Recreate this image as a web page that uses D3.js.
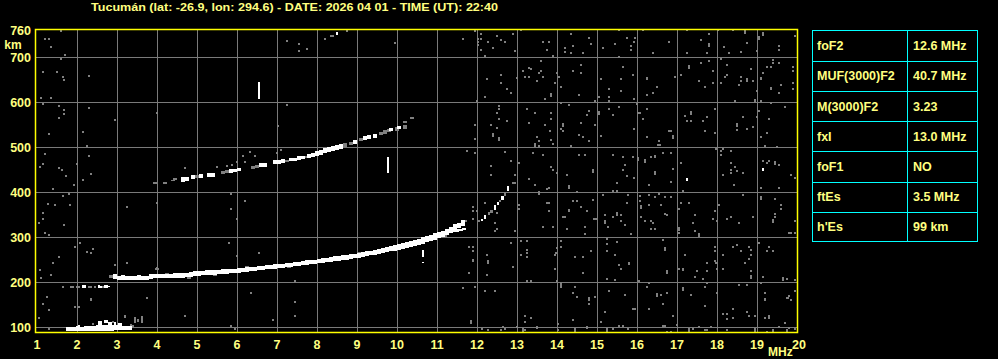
<!DOCTYPE html>
<html><head><meta charset="utf-8">
<script src="https://cdn.jsdelivr.net/npm/d3@7"></script>
<style>html,body{margin:0;padding:0;background:#000;overflow:hidden}</style>
</head><body>
<svg id="c" width="998" height="359"></svg>
<script>
// ---------------- DATA ----------------
const titleText = "Tucumán (lat: -26.9, lon: 294.6) - DATE: 2026 04 01 - TIME (UT): 22:40";
const freqTicks = d3.range(1, 21);
const freqGrid = d3.range(2, 20);
const heightTicks = [100, 200, 300, 400, 500, 600, 700, 760];
const heightGrid = [100, 200, 300, 400, 500, 600, 700];
const paramNames = ["foF2", "MUF(3000)F2", "M(3000)F2", "fxI", "foF1", "ftEs", "h'Es"];
const paramValues = ["12.6 MHz", "40.7 MHz", "3.23", "13.0 MHz", "NO", "3.5 MHz", "99 km"];

// echo traces: [frequency MHz, lower virtual height km, upper virtual height km]
const esTrace = [[1.75,92,99],[1.80,92,99],[1.85,92,99],[1.90,92,100],[1.95,92,100],[2.00,92,101],[2.05,92,103],
 [2.10,92,100],[2.15,92,100],[2.20,92,101],[2.25,92,101],[2.30,92,102],[2.35,92,102],[2.40,92,101],[2.45,92,102],
 [2.50,92,103],[2.55,93,105],[2.60,93,105],[2.65,93,104],[2.70,93,103],[2.75,93,104],[2.80,93,104],[2.85,93,104],
 [2.90,92,104],[2.95,94,104],[3.00,94,103],[3.05,94,103],[3.10,94,103],[3.15,94,102],[3.20,94,102],[3.25,94,102],
 [3.30,95,102],[3.35,95,101],
 [2.55,107,112],[2.60,107,112],[2.70,109,114],[2.75,109,114],[2.80,106,111],[2.85,106,111],[2.95,106,110],[3.05,104,109],[3.10,104,109]];
const esFaint = [[2.40,104,108],[3.20,120,126],[3.45,110,122],[3.52,112,118],[3.62,110,124],[3.35,103,106],[3.40,101,104],[2.90,110,113]];
const es2Trace = [[2.15,187,193],[2.20,187,193],[2.55,187,193],[2.60,187,192],[2.70,187,193],[2.75,187,193],[2.80,188,192]];
const es2Faint = [[1.85,187,191],[1.90,187,191],[2.00,187,191],[2.05,187,191],[2.30,187,191],[2.35,187,191],[2.45,187,191],[2.65,188,191]];

const fTrace = [[2.95,207,217],[3.05,206,213],[3.15,206,214],[3.25,205,213],[3.35,205,213],[3.45,205,213],[3.55,205,214],
 [3.65,206,213],[3.75,206,213],[3.85,207,216],[3.95,209,216],[4.05,209,217],[4.15,209,217],[4.25,209,217],[4.35,210,217],
 [4.45,210,218],[4.55,210,218],[4.65,211,219],[4.75,212,220],[4.85,213,222],[4.95,214,223],[5.05,215,224],[5.15,216,224],
 [5.25,216,225],[5.35,217,225],[5.45,217,226],[5.55,218,226],[5.65,218,227],[5.75,219,227],[5.85,220,228],[5.95,221,229],
 [6.05,222,230],[6.15,223,231],[6.25,224,232],[6.35,225,232],[6.45,226,233],[6.55,227,234],[6.65,228,235],[6.75,229,236],
 [6.85,230,237],[6.95,231,238],[7.05,232,239],[7.15,233,240],[7.25,234,241],[7.35,235,242],[7.45,236,243],[7.55,237,244],
 [7.65,238,245],[7.75,239,247],[7.85,240,248],[7.95,241,249],[8.05,243,251],[8.15,244,252],[8.25,245,253],[8.35,246,255],
 [8.45,247,256],[8.55,248,257],[8.65,249,258],[8.75,251,259],[8.85,252,261],[8.95,254,262],[9.05,255,264],[9.15,257,265],
 [9.25,258,267],[9.35,260,269],[9.45,262,271],[9.55,264,273],[9.65,266,275],[9.75,267,277],[9.85,269,279],[9.95,271,281],
 [10.05,273,283],[10.15,275,286],[10.25,277,288],[10.35,279,290],[10.45,281,293],[10.55,284,295],[10.65,286,298],
 [10.75,289,301],[10.85,292,304],[10.95,295,307],[11.05,298,310],[11.15,301,313],[11.25,305,317],[11.35,309,322],
 [11.45,314,327],[11.55,320,331],[11.65,326,337]];
const fTraceLower = [[11.40,311,316],[11.50,312,317],[11.60,313,318],[11.68,315,320]];
const fFaint = [[2.85,209,216],[2.90,208,214],[4.25,216,219],[4.80,207,211],[5.45,214,217],[6.25,232,235],[7.30,232,235],
 [9.05,264,267],[11.20,300,305],[11.70,333,338],[3.99,228,231]];
const xTrace = [[12.12,335,341],[12.20,341,348],[12.45,361,371],[12.53,372,377],[12.64,382,391],[12.77,402,413]];
const xFaint = [[12.05,333,338],[12.30,350,355],[12.36,354,359],[12.58,377,382],[12.70,391,400]];
const f2Trace = [[4.65,424,432],[4.75,425,432],[4.90,430,436],[5.10,432,438],[5.30,434,441],[5.40,435,442],
 [5.85,444,450],[5.95,445,451],[6.05,447,452],[6.60,456,463],[6.70,457,464],[6.95,463,470],[7.05,464,471],[7.15,465,472],
 [7.35,469,474],[7.45,470,475],[7.55,472,478],[7.65,474,480],[7.80,477,484],[7.90,479,486],[8.00,482,490],[8.10,484,493],
 [8.20,487,496],[8.30,489,499],[8.40,492,502],[8.50,494,504],[8.60,497,506],[8.95,507,514],[9.20,516,523],[9.30,518,525],
 [9.45,521,528],[9.85,537,542],[10.05,540,546]];
const f2Faint = [[3.95,420,422],[4.20,420,422],[4.40,424,427],[4.45,428,431],[5.00,431,437],[5.65,441,447],[5.75,443,449],
 [6.40,452,458],[6.50,454,460],[7.25,466,472],[7.70,475,480],[8.70,500,508],[8.85,505,512],[9.10,513,519],[9.60,526,533],
 [9.70,530,537],[9.80,533,540],[10.00,535,545],[10.20,540,548],[10.20,553,558],[10.37,562,567]];
// isolated vertical echo spikes: [frequency, low height, high height]
const spikes = [[6.55,607,644],[9.78,442,478],[10.65,255,271],[10.65,242,245]];
const brightDots = [[8.50,753],[17.24,429],[19.15,451]];

// scattered noise echoes: [frequency MHz, virtual height km]
const noise = [
 [1.20,740],[1.30,740],[1.34,723],[1.60,758],[1.70,704],[1.59,695],[1.14,667],[1.49,667],[1.64,655],[1.68,649],[2.29,658],
 [1.09,610],[1.34,608],[1.14,596],[1.55,591],[1.68,582],[1.68,573],[1.54,565],[2.29,587],[2.95,561],[2.14,534],[1.30,530],
 [2.24,502],[1.19,484],[1.14,462],[1.08,455],[1.54,453],[1.63,449],[1.73,436],[1.99,462],[2.29,480],[2.34,440],[2.14,427],
 [1.39,406],[1.64,391],[1.81,396],[1.93,416],[1.83,371],[1.28,373],[1.45,370],[1.16,353],[1.14,340],[1.05,332],[1.20,310],
 [1.29,304],[1.68,327],[2.08,286],[2.39,273],[2.34,265],[2.25,266],[1.94,278],[1.39,243],[1.54,256],[1.08,227],[1.09,208],
 [1.34,216],[2.95,238],[1.64,190],[1.24,167],[1.14,151],[1.30,138],[1.94,144],[2.04,144],[2.34,163],[2.34,160],[1.04,121],[1.30,95],
 [3.24,367],[3.99,376],[5.85,396],[5.85,363],[6.20,381],[5.99,341],[5.80,287],[5.99,258],[6.55,265],[3.24,243],[3.99,231],
 [3.74,164],[4.70,125],[6.34,176],[7.45,203],[7.45,156],[7.45,125],[6.89,116],[5.85,103],[5.95,95],
 [3.99,575],[7.24,593],[7.03,547],[7.09,493],[6.99,486],[6.16,481],[6.33,488],[6.45,480],[6.20,467],[5.99,467],[5.87,460],
 [5.74,458],[5.51,456],[4.70,454],
 [11.74,490],[11.80,278],[11.80,221],[11.64,186],
 [7.25,736],[7.55,729],[7.55,713],[7.75,718],[8.20,740],[8.40,747],[8.35,746],[8.75,758],[9.95,731],[11.65,740],
 // 12-16 MHz, upper
 [11.95,757],[12.10,752],[12.10,740],[12.03,740],[12.03,733],[12.03,726],[12.28,734],[12.39,720],[12.49,746],[12.60,737],
 [12.70,734],[12.89,752],[12.95,713],[13.09,761],[12.10,716],[12.20,702],[13.64,734],[13.79,734],[13.74,716],[13.89,702],
 [14.20,720],[14.21,711],[14.34,752],[14.39,725],[14.35,708],[14.66,708],[14.80,742],[14.84,728],[15.14,719],[15.45,728],
 [15.54,760],[15.55,700],[15.74,742],[15.85,725],[15.84,716],[15.93,734],
 [13.59,691],[13.14,668],[13.29,676],[13.34,673],[12.99,654],[13.20,655],[13.31,655],[13.55,665],[13.60,670],[13.64,655],
 [13.49,647],[12.59,661],[12.24,652],[12.60,642],[12.74,629],[12.84,620],[12.20,611],[13.84,618],[13.84,613],[13.70,607],
 [13.99,665],[14.05,655],[13.95,642],[14.09,633],[14.39,669],[14.59,683],[14.60,665],[14.54,615],[14.96,602],[15.04,611],
 [15.09,652],[15.30,628],[15.29,611],[15.30,602],[15.59,652],[15.60,624],[15.64,678],[15.89,661],[15.93,607],[11.99,602],
 [12.54,592],[12.55,585],[12.49,575],[12.55,562],[12.74,557],[12.35,548],[12.49,542],[12.39,529],[12.39,525],[12.55,520],
 [12.55,516],[11.95,549],[11.95,518],[13.26,585],[13.44,575],[13.30,554],[13.69,548],[13.84,575],[13.84,562],[13.83,536],
 [13.51,522],[13.55,514],[13.45,507],[13.45,503],[13.55,502],[13.89,507],[13.84,516],[14.14,551],[14.14,547],[14.10,540],
 [14.16,535],[14.30,594],[14.09,597],[14.34,503],[14.59,553],[14.55,527],[14.66,522],[14.79,513],[14.79,580],[14.74,571],
 [14.94,548],[15.04,577],[15.04,573],[15.09,525],[15.31,585],[15.40,570],[15.54,589],[15.93,540],
 [11.95,486],[12.70,488],[12.84,468],[12.35,458],[12.35,438],[12.95,438],[13.05,464],[13.29,429],[13.39,486],[13.64,482],
 [13.85,455],[13.90,450],[14.01,442],[14.24,438],[14.54,482],[14.70,482],[14.91,449],[14.91,445],[15.41,482],[15.64,477],
 [15.70,461],[15.64,449],[15.74,436],[15.91,477],[15.93,432],
 // 16-20 MHz, upper
 [15.95,742],[16.14,761],[16.41,708],[16.80,734],[17.24,761],[17.24,708],[17.60,737],[17.75,708],[17.80,752],[17.80,728],
 [17.80,724],[18.03,761],[18.18,722],[18.30,708],[18.40,761],[18.60,711],[18.70,758],[18.70,754],[18.74,730],[19.00,713],
 [19.05,745],[19.05,741],[19.15,754],[19.15,750],[19.55,725],[19.55,716],[19.95,747],
 [16.26,654],[16.26,650],[16.39,620],[16.51,633],[16.24,616],[16.95,655],[17.09,661],[17.30,680],[17.30,676],[17.60,687],
 [17.80,691],[17.90,669],[17.55,647],[17.70,633],[17.90,643],[18.10,696],[18.25,683],[18.20,655],[18.25,659],[18.10,642],
 [18.45,602],[18.60,655],[18.60,647],[18.55,637],[18.75,650],[18.75,646],[18.90,647],[18.85,674],[18.95,605],[18.95,601],
 [19.00,624],[19.10,654],[19.10,650],[19.10,602],[19.15,665],[19.25,678],[19.35,678],[19.40,694],[19.40,687],[19.55,687],
 [19.35,632],[19.35,628],[19.60,637],[19.55,620],[19.90,678],[19.90,669],[19.90,642],[19.90,629],[19.35,597],
 [15.99,596],[16.03,575],[16.08,575],[16.14,562],[16.24,585],[16.25,522],[16.55,514],[16.52,505],[16.57,505],[16.80,535],
 [16.85,535],[16.89,525],[16.89,521],[17.20,568],[17.25,557],[17.35,577],[17.35,573],[17.35,557],[17.64,557],[17.74,566],
 [17.70,535],[17.95,585],[17.95,531],[18.49,551],[18.49,547],[18.49,538],[18.65,566],[18.75,540],[18.90,544],[19.00,566],
 [19.05,581],[19.10,522],[19.25,531],[19.30,562],[19.70,589],
 [16.03,476],[16.03,472],[16.20,471],[16.20,467],[16.35,477],[16.45,481],[16.45,477],[16.65,487],[16.85,487],[16.45,444],
 [16.45,440],[16.89,451],[17.09,464],[17.98,496],[18.10,490],[18.15,496],[18.10,482],[18.35,490],[18.35,464],[18.45,455],
 [18.35,449],[18.50,446],[18.35,442],[18.65,442],[18.15,438],[19.15,470],[19.25,464],[19.30,468],[19.45,466],[19.45,462],
 [19.55,460],[19.20,502],[19.50,499],[19.85,438],[19.95,432],
 // 12-16 MHz, lower
 [12.89,421],[12.95,421],[13.45,416],[13.80,408],[13.55,399],[13.55,395],[13.74,406],[14.29,413],[14.29,409],[14.49,399],
 [15.49,421],[15.41,402],[15.50,402],[15.78,393],[15.16,393],[11.89,367],[11.89,358],[11.99,358],[11.91,339],[12.20,376],
 [12.49,354],[12.45,332],[12.45,313],[12.49,317],[12.95,313],[13.05,371],[13.05,363],[13.74,376],[13.80,376],[13.80,358],
 [13.64,322],[13.89,322],[14.16,345],[14.20,345],[14.24,318],[14.29,361],[14.29,357],[14.41,380],[14.49,380],[14.59,367],
 [14.74,358],[14.91,383],[14.93,341],[14.98,341],[14.70,322],[14.70,306],[15.20,349],[15.20,336],[15.20,332],[15.28,322],
 [15.39,345],[15.49,353],[15.49,349],[15.60,349],[15.60,336],[15.70,327],[15.74,375],[15.84,306],
 [11.89,278],[11.89,269],[11.89,250],[11.89,246],[12.24,261],[12.28,247],[12.28,243],[12.24,215],[12.84,287],[12.89,233],
 [13.09,291],[13.24,291],[13.24,272],[13.24,265],[13.09,261],[13.24,255],[13.99,276],[13.98,265],[13.95,260],[13.95,228],
 [14.09,291],[14.09,278],[14.45,255],[14.64,255],[14.84,269],[14.66,221],[15.24,295],[15.24,284],[15.24,269],[15.45,260],
 [15.55,238],[15.59,228],[15.79,243],[15.79,239],[15.24,207],[15.45,204],[15.49,289],
 [11.95,189],[12.20,181],[12.45,181],[13.24,202],[13.34,202],[14.01,202],[14.09,198],[14.09,194],[14.09,189],[14.45,189],
 [14.39,176],[14.49,167],[14.79,164],[14.79,159],[14.79,152],[14.95,167],[15.29,181],[15.70,171],[15.20,134],[15.91,139],
 [13.20,124],[13.34,121],[13.20,111],[14.39,115],[14.03,106],[15.09,111],
 [11.84,113],[11.84,109],[12.12,95],[12.28,93],[12.59,93],[12.66,101],[12.70,95],[12.99,101],[13.14,91],[13.14,95],
 [13.20,93],[13.49,101],[13.49,97],[14.03,93],[14.45,95],[14.45,91],[14.74,101],[14.74,97],[15.24,91],[15.24,95],
 [15.41,95],[15.56,102],[15.64,102],[15.78,95],
 // 16-20 MHz, lower
 [16.30,415],[16.85,422],[17.14,402],[18.43,415],[19.10,408],[19.55,408],[16.08,391],[16.08,381],[16.10,368],[16.10,364],
 [16.30,393],[16.45,389],[16.55,396],[16.70,389],[16.85,389],[16.30,371],[16.60,371],[16.70,352],[16.75,348],[16.10,344],
 [16.20,335],[16.35,335],[16.40,331],[16.35,318],[16.45,318],[17.05,320],[17.05,316],[17.10,376],[17.30,376],[17.05,363],
 [17.45,348],[17.40,331],[17.45,313],[17.55,307],[17.55,303],[17.95,357],[17.90,340],[18.00,335],[18.05,371],[18.25,340],
 [18.35,345],[18.55,331],[18.65,393],[18.90,345],[19.10,389],[19.10,385],[19.45,385],[19.60,371],[19.60,363],[19.45,352],
 [19.45,344],[19.40,337],[19.40,333],[19.95,335],[19.80,309],[19.84,309],[19.95,309],[17.05,309],
 [16.70,276],[16.70,272],[16.75,225],[16.75,221],[16.65,294],[17.20,260],[17.15,230],[17.15,226],[17.05,228],[17.50,225],
 [17.75,243],[17.75,225],[17.65,207],[17.45,211],[17.95,277],[17.95,268],[17.95,246],[17.97,242],[18.00,243],[18.00,229],
 [18.15,260],[18.15,229],[18.40,277],[18.50,282],[18.60,268],[18.80,277],[18.85,272],[18.85,260],[18.80,252],[18.85,224],
 [18.85,213],[18.85,209],[18.70,243],[19.05,287],[19.15,211],[19.25,268],[19.30,277],[19.40,268],[19.65,209],[19.65,205],
 [19.75,207],[19.95,205],
 [16.05,202],[16.30,197],[16.25,188],[16.50,174],[16.50,170],[16.60,171],[16.75,176],[16.65,151],[17.15,187],[17.15,183],
 [17.35,171],[17.70,188],[17.75,197],[18.00,175],[17.70,146],[18.55,193],[18.75,193],[19.10,197],[19.20,175],[19.20,163],
 [19.20,160],[19.80,168],[19.85,160],[19.95,180],[16.30,139],[16.90,124],[18.15,128],[18.25,128],[18.40,139],[18.40,120],
 [18.25,117],[18.75,134],[18.80,124],[18.95,124],[19.20,120],[19.30,124],[19.30,120],[19.75,165],[19.78,165],
 [15.95,139],[16.65,102],[16.70,102],[17.00,105],[17.30,96],[17.30,92],[17.40,96],[17.55,100],[17.70,94],[17.74,94],
 [17.85,100],[18.25,94],[18.95,96],[18.95,92],[19.25,89],[19.40,93],[19.40,89],[19.55,100],[19.70,108],[19.75,93],
 [19.75,89],[19.80,98],[19.95,96],[16.75,89],[16.85,89]
];

// ---------------- DRAWING ----------------
const W = 998, H = 359;
const svg = d3.select("#c");
svg.append("rect").attr("width", W).attr("height", H).attr("fill", "#000");

const x = d3.scaleLinear().domain([1, 20]).range([37, 797]);
const y = d3.scaleLinear().domain([100, 760]).range([327, 30]);

const GRID = "#7a7a7a", GREY = "#808080", WHITE = "#ffffff";
const FRAME = "#ffff00", TEXT = "#ffff80", CYAN = "#00ffff";
const FONT = "'Liberation Sans', Arial, sans-serif";
const PAD = 1; // extra km of echo thickness on bright traces

const plot = svg.append("g").attr("shape-rendering", "crispEdges");

// grid
plot.selectAll("line.vg").data(freqGrid).join("line")
  .attr("x1", d => Math.round(x(d)) + 0.5).attr("x2", d => Math.round(x(d)) + 0.5)
  .attr("y1", 30).attr("y2", 332).attr("stroke", GRID).attr("stroke-width", 1);
plot.selectAll("line.hg").data(heightGrid).join("line")
  .attr("y1", d => Math.round(y(d)) + 0.5).attr("y2", d => Math.round(y(d)) + 0.5)
  .attr("x1", 36).attr("x2", 797).attr("stroke", GRID).attr("stroke-width", 1);

// noise
function dots(data, color, w, h) {
  plot.append("g").selectAll("rect").data(data).join("rect")
    .attr("x", d => Math.round(x(d[0])) - 1).attr("y", d => Math.round(y(d[1])) - 1)
    .attr("width", w).attr("height", h).attr("fill", color);
}
dots(noise, GREY, 2, 2);

function bands(data, color, stepMHz, pad) {
  plot.append("g").selectAll("rect").data(data).join("rect")
    .attr("x", d => x(d[0] - stepMHz / 2))
    .attr("width", d => x(d[0] + stepMHz / 2) - x(d[0] - stepMHz / 2))
    .attr("y", d => y(d[2] + pad))
    .attr("height", d => Math.max(1.5, y(d[1] - pad) - y(d[2] + pad)))
    .attr("fill", color);
}
bands(esFaint, GREY, 0.05, 0);
bands(esTrace, WHITE, 0.05, PAD);
bands(es2Faint, GREY, 0.05, 0);
bands(es2Trace, WHITE, 0.05, 0);
bands(fFaint, GREY, 0.1, 0);
bands(fTrace, WHITE, 0.1, PAD);
bands(fTraceLower, WHITE, 0.1, 0);
bands(xFaint, GREY, 0.06, 0);
bands(xTrace, WHITE, 0.06, 0);
bands(f2Faint, GREY, 0.1, 0);
bands(f2Trace, WHITE, 0.1, PAD);

plot.append("g").selectAll("rect").data(spikes).join("rect")
  .attr("x", d => Math.round(x(d[0])) - 1).attr("width", 2)
  .attr("y", d => y(d[2])).attr("height", d => y(d[1]) - y(d[2]))
  .attr("fill", WHITE);
dots(brightDots, WHITE, 2, 3);

// frame
svg.append("rect").attr("x", 35.5).attr("y", 29.5).attr("width", 762).attr("height", 303)
  .attr("fill", "none").attr("stroke", FRAME).attr("stroke-width", 1.5);

// title
svg.append("text").attr("x", 91).attr("y", 10.5).attr("fill", TEXT)
  .attr("font-family", FONT).attr("font-weight", "bold").attr("font-size", 11.5)
  .attr("textLength", 407).attr("lengthAdjust", "spacingAndGlyphs").text(titleText);

// y labels
svg.append("g").selectAll("text").data(heightTicks).join("text")
  .attr("x", 31).attr("y", d => y(d) + 4.5).attr("text-anchor", "end")
  .attr("fill", TEXT).attr("font-family", FONT).attr("font-weight", "bold").attr("font-size", 12.5)
  .text(d => d);
svg.append("text").attr("x", 13).attr("y", 49).attr("text-anchor", "middle").attr("fill", TEXT)
  .attr("font-family", FONT).attr("font-weight", "bold").attr("font-size", 12).text("km");

// x labels
svg.append("g").selectAll("text").data(freqTicks).join("text")
  .attr("x", d => x(d) + (d === 20 ? 2 : 0)).attr("y", 348.5).attr("text-anchor", "middle")
  .attr("fill", TEXT).attr("font-family", FONT).attr("font-weight", "bold").attr("font-size", 12.5)
  .text(d => d);
svg.append("text").attr("x", 768).attr("y", 355.5).attr("fill", TEXT)
  .attr("font-family", FONT).attr("font-weight", "bold").attr("font-size", 12).text("MHz");

// parameter table
const tX0 = 812.5, tX1 = 977.5, tXm = 907.5, tY0 = 30.5, rowH = 30.2;
const tbl = svg.append("g").attr("shape-rendering", "crispEdges");
tbl.append("rect").attr("x", tX0).attr("y", tY0).attr("width", tX1 - tX0).attr("height", rowH * paramNames.length)
  .attr("fill", "none").attr("stroke", CYAN).attr("stroke-width", 1);
tbl.append("line").attr("x1", tXm).attr("x2", tXm).attr("y1", tY0).attr("y2", tY0 + rowH * paramNames.length)
  .attr("stroke", CYAN);
tbl.selectAll("line.r").data(d3.range(1, paramNames.length)).join("line")
  .attr("x1", tX0).attr("x2", tX1)
  .attr("y1", i => Math.round(tY0 + i * rowH) + 0.5).attr("y2", i => Math.round(tY0 + i * rowH) + 0.5)
  .attr("stroke", CYAN);
svg.append("g").selectAll("text").data(paramNames).join("text")
  .attr("x", 817).attr("y", (d, i) => tY0 + i * rowH + rowH / 2 + 4.5)
  .attr("fill", TEXT).attr("font-family", FONT).attr("font-weight", "bold").attr("font-size", 12.5).text(d => d);
svg.append("g").selectAll("text").data(paramValues).join("text")
  .attr("x", 913).attr("y", (d, i) => tY0 + i * rowH + rowH / 2 + 4.5)
  .attr("fill", TEXT).attr("font-family", FONT).attr("font-weight", "bold").attr("font-size", 12.5).text(d => d);
</script>
</body></html>
